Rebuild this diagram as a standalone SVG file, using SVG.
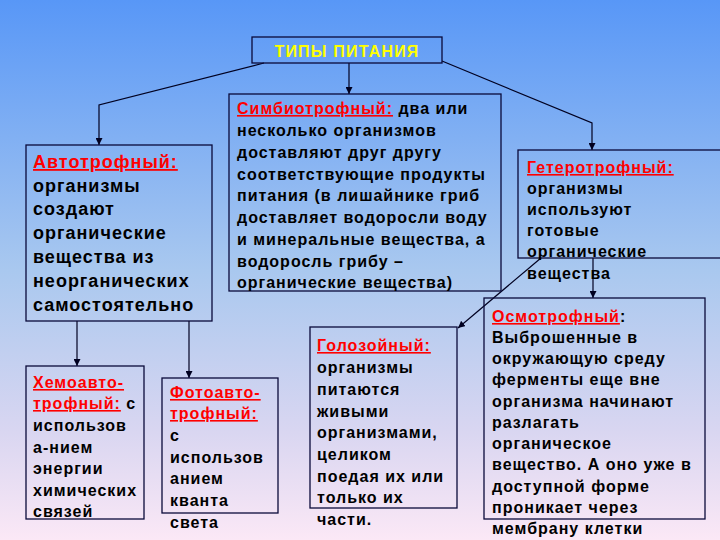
<svg xmlns="http://www.w3.org/2000/svg" width="720" height="540" viewBox="0 0 720 540">
<defs>
<linearGradient id="bg" x1="0" y1="0" x2="0" y2="1">
<stop offset="0" stop-color="#5897f7"/>
<stop offset="0.5" stop-color="#a9c8ef"/>
<stop offset="0.8" stop-color="#d9d6f1"/>
<stop offset="1" stop-color="#fbe8f6"/>
</linearGradient>
<marker id="ah" viewBox="0 0 10 10" refX="10" refY="5" markerWidth="7" markerHeight="7" markerUnits="userSpaceOnUse" orient="auto">
<path d="M0,0 L10,5 L0,10 z" fill="#000020"/>
</marker>
<style>
.box{fill:none;stroke:#0a0a3a;stroke-width:1.3}
.t{font-family:"Liberation Sans",Arial,sans-serif;font-weight:bold;font-size:16px;letter-spacing:1px;fill:#000}
.big{font-size:18px}
.h{fill:#ff0000;text-decoration:underline}
.title{font-family:"Liberation Sans",Arial,sans-serif;font-weight:bold;font-size:16px;letter-spacing:1.2px;fill:#ffff00}
.c{fill:none;stroke:#000020;stroke-width:1.2}
</style>
</defs>
<rect width="720" height="540" fill="url(#bg)"/>

<g id="connectors">
<polyline class="c" points="264,63 99,105 99,145" marker-end="url(#ah)"/>
<line class="c" x1="349" y1="63" x2="349" y2="94" marker-end="url(#ah)"/>
<polyline class="c" points="442,61 592,123 592,150" marker-end="url(#ah)"/>
<line class="c" x1="77" y1="321" x2="77" y2="366" marker-end="url(#ah)"/>
<line class="c" x1="189" y1="321" x2="189" y2="378" marker-end="url(#ah)"/>
<line class="c" x1="541" y1="258" x2="458" y2="328" marker-end="url(#ah)"/>
<line class="c" x1="593" y1="258" x2="593" y2="298" marker-end="url(#ah)"/>
</g>

<g id="title">
<rect class="box" x="252" y="37" width="190" height="26"/>
<text class="title" x="347" y="57" text-anchor="middle">ТИПЫ ПИТАНИЯ</text>
</g>

<g id="autotroph">
<rect class="box" x="26" y="145" width="186" height="176"/>
<text class="t big" x="33">
<tspan x="33" y="168" class="h">Автотрофный:</tspan>
<tspan x="33" y="192">организмы</tspan>
<tspan x="33" y="215">создают</tspan>
<tspan x="33" y="239">органические</tspan>
<tspan x="33" y="263">вещества из</tspan>
<tspan x="33" y="287">неорганических</tspan>
<tspan x="33" y="311">самостоятельно</tspan>
</text>
</g>

<g id="symbiotroph">
<rect class="box" x="229" y="94" width="272" height="197"/>
<text class="t" x="237">
<tspan x="237" y="114"><tspan class="h">Симбиотрофный:</tspan> два или</tspan>
<tspan x="237" y="136">несколько организмов</tspan>
<tspan x="237" y="158">доставляют друг другу</tspan>
<tspan x="237" y="180">соответствующие продукты</tspan>
<tspan x="237" y="201">питания (в лишайнике гриб</tspan>
<tspan x="237" y="223">доставляет водоросли воду</tspan>
<tspan x="237" y="245">и минеральные вещества, а</tspan>
<tspan x="237" y="267">водоросль грибу –</tspan>
<tspan x="237" y="288">органические вещества)</tspan>
</text>
</g>

<g id="heterotroph">
<rect class="box" x="518" y="150" width="210" height="108"/>
<text class="t" x="527">
<tspan x="527" y="173" class="h">Гетеротрофный:</tspan>
<tspan x="527" y="194">организмы</tspan>
<tspan x="527" y="215">используют</tspan>
<tspan x="527" y="236">готовые</tspan>
<tspan x="527" y="257">органические</tspan>
<tspan x="527" y="279">вещества</tspan>
</text>
</g>

<g id="chemoautotroph">
<rect class="box" x="26" y="366" width="118" height="153"/>
<text class="t" x="33">
<tspan x="33" y="388" class="h">Хемоавто-</tspan>
<tspan x="33" y="409"><tspan class="h">трофный:</tspan> с</tspan>
<tspan x="33" y="431">использов</tspan>
<tspan x="33" y="453">а-нием</tspan>
<tspan x="33" y="474">энергии</tspan>
<tspan x="33" y="496">химических</tspan>
<tspan x="33" y="517">связей</tspan>
</text>
</g>

<g id="photoautotroph">
<rect class="box" x="162" y="378" width="116" height="135"/>
<text class="t" x="170">
<tspan x="170" y="398" class="h">Фотоавто-</tspan>
<tspan x="170" y="419" class="h">трофный:</tspan>
<tspan x="170" y="441">с</tspan>
<tspan x="170" y="463">использов</tspan>
<tspan x="170" y="484">анием</tspan>
<tspan x="170" y="506">кванта</tspan>
<tspan x="170" y="528">света</tspan>
</text>
</g>

<g id="holozoic">
<rect class="box" x="310" y="327" width="147" height="181"/>
<text class="t" x="317">
<tspan x="317" y="351" class="h">Голозойный:</tspan>
<tspan x="317" y="373">организмы</tspan>
<tspan x="317" y="395">питаются</tspan>
<tspan x="317" y="417">живыми</tspan>
<tspan x="317" y="438">организмами,</tspan>
<tspan x="317" y="460">целиком</tspan>
<tspan x="317" y="482">поедая их или</tspan>
<tspan x="317" y="503">только их</tspan>
<tspan x="317" y="525">части.</tspan>
</text>
</g>

<g id="osmotroph">
<rect class="box" x="484" y="298" width="221" height="221"/>
<text class="t" x="492">
<tspan x="492" y="322"><tspan class="h">Осмотрофный</tspan>:</tspan>
<tspan x="492" y="343">Выброшенные в</tspan>
<tspan x="492" y="364">окружающую среду</tspan>
<tspan x="492" y="385">ферменты еще вне</tspan>
<tspan x="492" y="407">организма начинают</tspan>
<tspan x="492" y="428">разлагать</tspan>
<tspan x="492" y="449">органическое</tspan>
<tspan x="492" y="470">вещество. А оно уже в</tspan>
<tspan x="492" y="492">доступной форме</tspan>
<tspan x="492" y="513">проникает через</tspan>
<tspan x="492" y="534">мембрану клетки</tspan>
</text>
</g>
</svg>
